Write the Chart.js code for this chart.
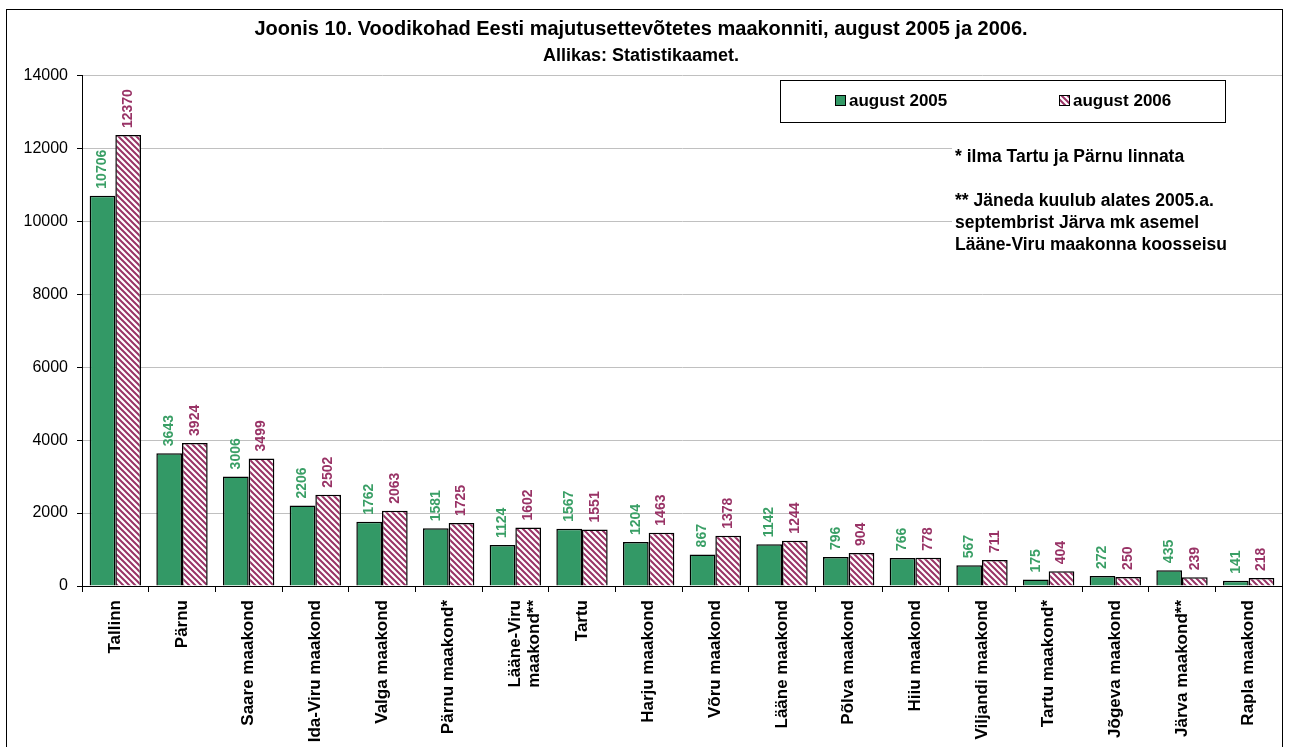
<!DOCTYPE html>
<html>
<head>
    <title>Voodikohad maakonniti</title>
    <script src="https://cdn.jsdelivr.net/npm/chart.js@4.4.1/dist/chart.umd.min.js"></script>
    <style>
        body { margin: 0; background: #fff; }
        #chart { display: block; }
    </style>
</head>
<body>
    <canvas id="chart" width="1289" height="747"></canvas>

    <script>
        // data
        const categories = ['Tallinn', 'Pärnu', 'Saare maakond', 'Ida-Viru maakond', 'Valga maakond',
            'Pärnu maakond*', ['Lääne-Viru', 'maakond**'], 'Tartu', 'Harju maakond', 'Võru maakond',
            'Lääne maakond', 'Põlva maakond', 'Hiiu maakond', 'Viljandi maakond', 'Tartu maakond*',
            'Jõgeva maakond', 'Järva maakond**', 'Rapla maakond'];
        const beds2005 = [10706, 3643, 3006, 2206, 1762, 1581, 1124, 1567, 1204, 867, 1142, 796, 766, 567, 175, 272, 435, 141];
        const beds2006 = [12370, 3924, 3499, 2502, 2063, 1725, 1602, 1551, 1463, 1378, 1244, 904, 778, 711, 404, 250, 239, 218];
        const seriesNames = ['august 2005', 'august 2006'];
        const notes = ['* ilma Tartu ja Pärnu linnata', '', '** Jäneda kuulub alates 2005.a.',
            'septembrist Järva mk asemel', 'Lääne-Viru maakonna koosseisu'];

        const FONT = '"Liberation Sans", Arial, sans-serif';
        const green = '#339966';
        const plum = '#993366';

        // diagonal hatch for 2006
        function makeHatch() {
            const c = document.createElement('canvas');
            c.width = 6; c.height = 6;
            const g = c.getContext('2d');
            g.fillStyle = '#fff';
            g.fillRect(0, 0, 6, 6);
            g.strokeStyle = plum;
            g.lineWidth = 2;
            g.beginPath();
            g.moveTo(-1, -1); g.lineTo(7, 7);
            g.moveTo(-4, 2); g.lineTo(4, 10);
            g.moveTo(2, -4); g.lineTo(10, 4);
            g.stroke();
            return g.createPattern(c, 'repeat');
        }
        const ctx = document.getElementById('chart').getContext('2d');
        const hatch = makeHatch();

        const extras = {
            id: 'extras',
            afterDatasetsDraw(chart) {
                const c = chart.ctx;
                // value labels, rotated
                c.save();
                c.font = 'bold 14px ' + FONT;
                c.textAlign = 'left';
                c.textBaseline = 'middle';
                chart.data.datasets.forEach((ds, i) => {
                    c.fillStyle = i === 0 ? '#3a9f66' : plum;
                    chart.getDatasetMeta(i).data.forEach((bar, j) => {
                        c.save();
                        c.translate(bar.x, bar.y - 7);
                        c.rotate(-Math.PI / 2);
                        c.fillText(ds.data[j], 0, 0);
                        c.restore();
                    });
                });
                c.restore();
            },
            afterDraw(chart) {
                const c = chart.ctx;
                const area = chart.chartArea;
                c.save();
                // legend box
                c.fillStyle = '#fff';
                c.fillRect(780, 80, 445, 42);
                c.strokeStyle = '#000';
                c.lineWidth = 1;
                c.strokeRect(780.5, 80.5, 445, 42);
                const itemX = [835, 1059];
                c.font = 'bold 17px ' + FONT;
                c.textBaseline = 'middle';
                chart.data.datasets.forEach((ds, i) => {
                    c.fillStyle = ds.backgroundColor;
                    c.fillRect(itemX[i], 95, 11, 11);
                    c.strokeRect(itemX[i] + 0.5, 95.5, 10, 10);
                    c.fillStyle = '#000';
                    c.fillText(ds.label, itemX[i] + 14, 101);
                });
                // notes
                c.fillStyle = '#fff';
                c.fillRect(952, 140, area.right - 952, 118);
                c.fillStyle = '#000';
                c.font = 'bold 17.5px ' + FONT;
                notes.forEach((t, k) => c.fillText(t, 955, 157 + k * 22));
                // outer frame
                c.strokeRect(6.5, 9.5, 1276, 760);
                c.restore();
            }
        };

        new Chart(ctx, {
            type: 'bar',
            data: {
                labels: categories,
                datasets: [
                    { label: seriesNames[0], data: beds2005, backgroundColor: green, borderColor: '#000', borderWidth: 1.5 },
                    { label: seriesNames[1], data: beds2006, backgroundColor: hatch, borderColor: '#000', borderWidth: 1.5 }
                ]
            },
            options: {
                responsive: false,
                animation: false,
                categoryPercentage: 0.77,
                barPercentage: 1.0,
                layout: { padding: { left: 0, right: 7, top: 0, bottom: 0 } },
                plugins: {
                    legend: { display: false },
                    tooltip: { enabled: false },
                    title: {
                        display: true,
                        text: 'Joonis 10. Voodikohad Eesti majutusettevõtetes maakonniti, august 2005 ja 2006.',
                        color: '#000',
                        font: { family: FONT, size: 20, weight: 'bold' },
                        padding: { top: 17, bottom: 1 }
                    },
                    subtitle: {
                        display: true,
                        text: 'Allikas: Statistikaamet.',
                        color: '#000',
                        font: { family: FONT, size: 18, weight: 'bold' },
                        padding: { top: 3, bottom: 9 }
                    }
                },
                scales: {
                    x: {
                        grid: { offset: true, drawOnChartArea: false, color: '#000', tickLength: 6, tickColor: '#000' },
                        border: { color: '#000', width: 1 },
                        ticks: {
                            color: '#000',
                            font: { family: FONT, size: 17, weight: 'bold', lineHeight: 1.1 },
                            minRotation: 90, maxRotation: 90,
                            autoSkip: false, padding: 8
                        },
                        afterFit(scale) { scale.height = 747 - 586; }
                    },
                    y: {
                        min: 0, max: 14000,
                        grid: { color: '#c0c0c0', tickLength: 5, tickColor: '#000' },
                        border: { color: '#000', width: 1 },
                        ticks: {
                            stepSize: 2000, color: '#000',
                            font: { family: FONT, size: 16 }, padding: 9,
                            callback: v => String(v)
                        },
                        afterFit(scale) { scale.width = 82; }
                    }
                }
            },
            plugins: [extras]
        });
    </script>
</body>
</html>
